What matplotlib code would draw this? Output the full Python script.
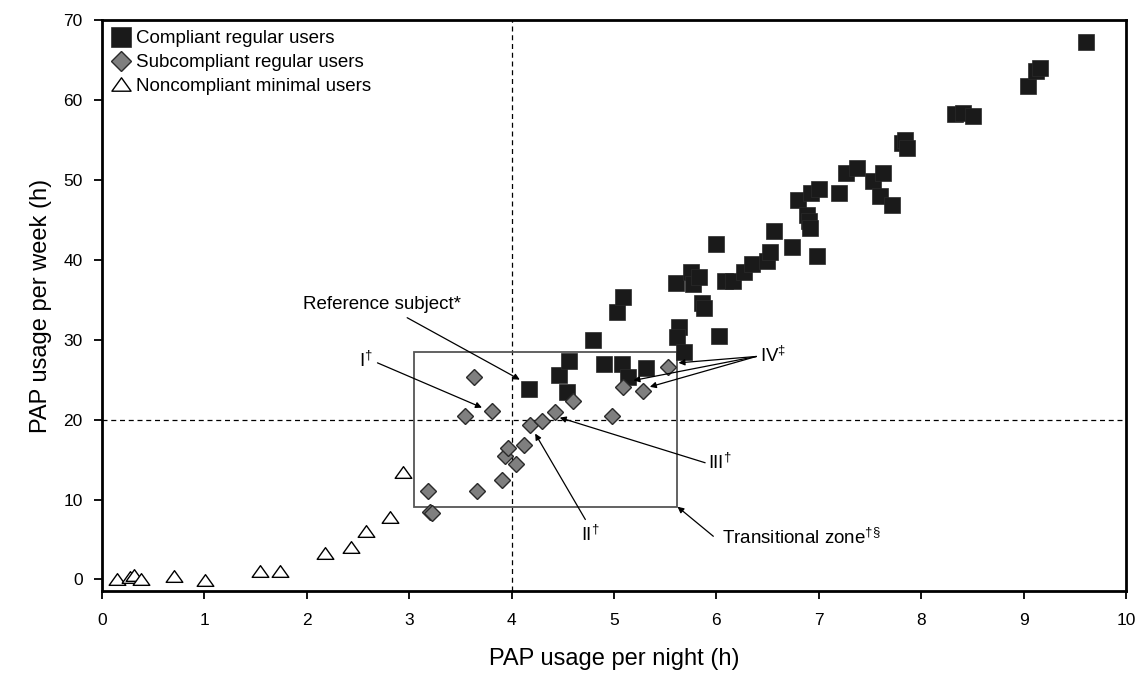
import matplotlib
matplotlib.use("Agg")
import matplotlib.pyplot as plt
from matplotlib.patches import Rectangle
from matplotlib.path import Path

plt.rcParams['font.family'] = ['Liberation Sans', 'DejaVu Sans']
plt.rcParams['mathtext.fontset'] = 'custom'
plt.rcParams['mathtext.rm'] = 'Liberation Sans'
plt.rcParams['mathtext.default'] = 'regular'

# Compliant regular users (black squares)
comp_x = [4.17, 4.46, 4.54, 4.56, 4.79, 4.90, 5.03, 5.08, 5.09, 5.14, 5.31, 5.61, 5.63, 5.62,
          5.68, 5.75, 5.77, 5.83, 5.86, 5.88, 6.00, 6.03, 6.08, 6.16, 6.27, 6.35, 6.49, 6.52,
          6.56, 6.74, 6.80, 6.88, 6.90, 6.91, 6.92, 6.98, 7.00, 7.20, 7.27, 7.37, 7.53, 7.60,
          7.63, 7.71, 7.81, 7.84, 7.86, 8.33, 8.41, 8.51, 9.04, 9.12, 9.16, 9.61]
comp_y = [23.8, 25.6, 23.4, 27.3, 30.0, 27.0, 33.5, 27.0, 35.4, 25.3, 26.5, 37.1, 31.6, 30.3,
          28.4, 38.5, 37.0, 37.8, 34.6, 34.0, 42.0, 30.5, 37.4, 37.4, 38.5, 39.5, 39.8, 41.0,
          43.6, 41.6, 47.5, 45.6, 44.8, 44.0, 48.3, 40.5, 48.9, 48.4, 50.9, 51.5, 49.8, 48.0,
          50.9, 46.9, 54.6, 55.0, 54.0, 58.2, 58.4, 58.0, 61.8, 63.6, 64.0, 67.2]

# Subcompliant regular users (grey diamonds)
sub_x = [3.18, 3.20, 3.22, 3.54, 3.63, 3.66, 3.81, 3.91, 3.94, 3.96, 4.04, 4.12, 4.18, 4.30,
         4.42, 4.60, 4.98, 5.09, 5.28, 5.53]
sub_y = [11.1, 8.5, 8.3, 20.5, 25.3, 11.1, 21.1, 12.4, 15.4, 16.5, 14.4, 16.8, 19.3, 19.8,
         21.0, 22.3, 20.5, 24.1, 23.6, 26.6]

# Noncompliant minimal users (open triangles)
non_x = [0.15, 0.27, 0.31, 0.38, 0.70, 1.01, 1.54, 1.74, 2.18, 2.43, 2.58, 2.81, 2.94]
non_y = [0.0, 0.3, 0.5, 0.0, 0.4, -0.1, 1.0, 1.0, 3.3, 4.1, 6.1, 7.8, 13.4]

fig = plt.figure(figsize=(11.36, 6.76), dpi=100)
ax = fig.add_axes([0.0898, 0.1257, 0.9014, 0.8447])

# reference lines and transitional zone
ax.axvline(4, color='black', lw=0.9, ls=(0, (4, 3)), zorder=1)
ax.axhline(20, color='black', lw=0.9, ls=(0, (4, 3)), zorder=1)
ax.add_patch(Rectangle((3.05, 9.1), 5.62 - 3.05, 28.4 - 9.1, fill=False,
                       edgecolor='#555555', lw=1.3, zorder=2))

# wide, flat open triangle like the original
tri = Path([(-1, -0.7), (1, -0.7), (0, 0.7), (-1, -0.7)],
           [Path.MOVETO, Path.LINETO, Path.LINETO, Path.CLOSEPOLY])
ax.plot(comp_x, comp_y, ls='none', marker='s', ms=12, mfc='#1a1a1a', mec='#2a2a2a',
        mew=0.5, label='Compliant regular users', zorder=4)
ax.plot(sub_x, sub_y, ls='none', marker='D', ms=8.5, mfc='#7f7f7f', mec='#2a2a2a',
        mew=1.0, label='Subcompliant regular users', zorder=5)
ax.plot(non_x, non_y, ls='none', marker=tri, ms=12, mfc='white', mec='black',
        mew=1.0, label='Noncompliant minimal users', zorder=5)

# annotations
fs = 13.5
arr = dict(arrowstyle='-|>', color='black', lw=0.9, mutation_scale=9, shrinkA=0, shrinkB=0)

def arrow(start, end):
    ax.annotate('', xy=end, xytext=start, arrowprops=arr, zorder=6)

ax.text(2.73, 34.4, 'Reference subject*', fontsize=fs, ha='center', va='center')
arrow((2.98, 32.75), (4.08, 25.0))

ax.text(2.58, 27.3, r'I$^{†}$', fontsize=fs, ha='center', va='center')
arrow((2.69, 27.1), (3.71, 21.5))

ax.text(4.77, 5.6, r'II$^{†}$', fontsize=fs, ha='center', va='center')
arrow((4.72, 7.5), (4.23, 18.25))

ax.text(5.92, 14.6, r'III$^{†}$', fontsize=fs, ha='left', va='center')
arrow((5.89, 14.6), (4.47, 20.25))

ax.text(6.43, 28.0, r'IV$^{‡}$', fontsize=fs, ha='left', va='center')
for tip in [(5.63, 27.1), (5.19, 24.9), (5.35, 24.1)]:
    arrow((6.39, 27.9), tip)

ax.text(6.05, 5.25, r'Transitional zone$^{†§}$', fontsize=fs, ha='left', va='center')
arrow((5.97, 5.4), (5.62, 9.1))

ax.set_xlim(0, 10)
ax.set_ylim(-1.45, 70)
ax.set_xticks(range(0, 11))
ax.set_yticks(range(0, 71, 10))
ax.tick_params(axis='both', direction='out', length=6, width=1.3, labelsize=12.5)
ax.tick_params(axis='x', pad=10)
ax.tick_params(axis='y', pad=8)
for s in ax.spines.values():
    s.set_linewidth(2)
ax.set_xlabel('PAP usage per night (h)', fontsize=17, labelpad=14)
ax.set_ylabel('PAP usage per week (h)', fontsize=17, labelpad=8)

ax.legend(loc='upper left', bbox_to_anchor=(0.0, 1.0), frameon=False, fontsize=fs,
          handlelength=0.9, handletextpad=0.35, labelspacing=0.35, borderaxespad=0.15,
          markerscale=1.15)

fig.savefig('out.png', dpi=100)
